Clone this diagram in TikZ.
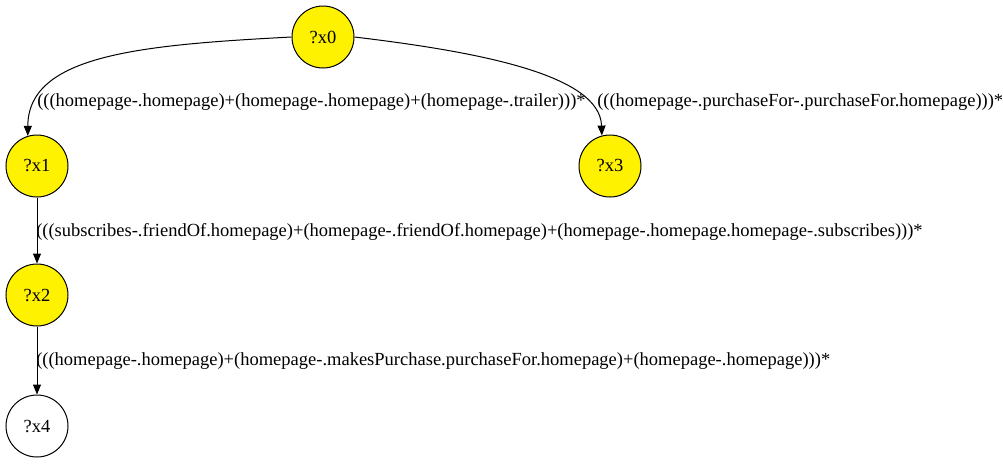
\documentclass[tikz,border=0pt]{standalone}
\usepackage{fontspec}
\setmainfont{Liberation Serif}
\usetikzlibrary{arrows.meta}
\tikzset{every picture/.style={line width=1pt}}
\tikzset{
qvar/.style={draw,circle,minimum size=62pt,inner sep=0pt,font=\fontsize{18.5}{21}\selectfont},
qbound/.style={qvar,fill=yellow},
pathlbl/.style={anchor=west,inner sep=0.75pt,font=\fontsize{18.5}{21}\selectfont},
edge/.style={-{Triangle[length=10pt,width=8pt]}}}

\begin{document}
\begin{tikzpicture}[x=1pt,y=1pt,yscale=-1,xscale=1]
\useasboundingbox (0,0) rectangle (1003,464);

%Nodes
\node[qbound] (x0) at (323,37) {?x0};
\node[qbound] (x1) at (37,166) {?x1};
\node[qbound] (x3) at (610,166) {?x3};
\node[qbound] (x2) at (37,295) {?x2};
\node[qvar] (x4) at (37,426) {?x4};

%Edges
\draw[edge] (x0.west) .. controls (140,45) and (28,55) .. (x1.107);
\draw[edge] (x0.east) .. controls (480,52) and (600,75) .. (x3.105);
\draw[edge] (x1) -- (x2);
\draw[edge] (x2) -- (x4);

% Text Node
\node[pathlbl] (l01) at (36,102) {(((homepage-.homepage)+(homepage-.homepage)+(homepage-.trailer)))*};
% Text Node
\node[pathlbl] (l03) at (596,102) {(((homepage-.purchaseFor-.purchaseFor.homepage)))*};
% Text Node
\node[pathlbl] (l12) at (35,232) {(((subscribes-.friendOf.homepage)+(homepage-.friendOf.homepage)+(homepage-.homepage.homepage-.subscribes)))*};
% Text Node
\node[pathlbl] (l24) at (35,361) {(((homepage-.homepage)+(homepage-.makesPurchase.purchaseFor.homepage)+(homepage-.homepage)))*};

\end{tikzpicture}
\end{document}
